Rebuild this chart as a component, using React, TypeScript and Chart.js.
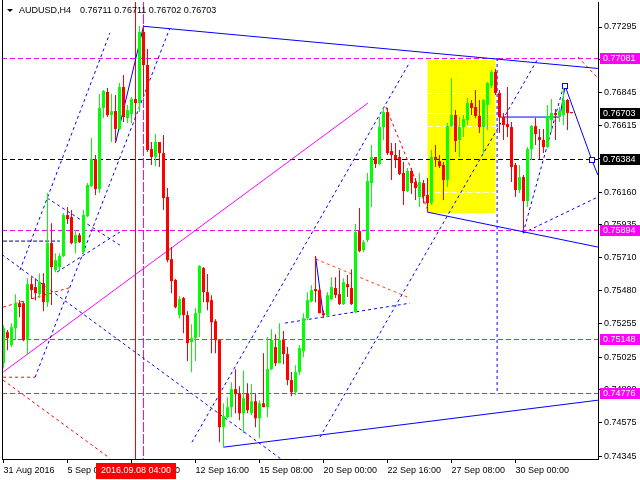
import React, { useEffect, useRef } from "react";
import { Chart, registerables } from "chart.js";

Chart.register(...registerables);

const FONT = "Liberation Sans";

// ---------- header ----------
const symbolTitle = "AUDUSD,H4";
const headerQuote = "0.76711 0.76711 0.76702 0.76703";

// ---------- OHLC (H4 bars, bar 0 = 31 Aug 2016 16:00) ----------
const opens = [
  0.74983, 0.75197, 0.75108, 0.75224, 0.75396, 0.75396, 0.75142, 0.75527, 0.75507, 0.75458,
  0.75534, 0.75403, 0.75809, 0.75623, 0.75644, 0.7572, 0.76002, 0.75988, 0.75809, 0.75864,
  0.75747, 0.75995, 0.76202, 0.76387, 0.76181, 0.76738, 0.76848, 0.7669, 0.76717, 0.76594,
  0.76883, 0.76669, 0.76697, 0.768, 0.76772, 0.77261, 0.77034, 0.76456, 0.76401, 0.76504,
  0.76428, 0.76126, 0.75699, 0.75555, 0.75314, 0.75431, 0.75314, 0.75128, 0.75156, 0.75327,
  0.75637, 0.75472, 0.75417, 0.75272, 0.75142, 0.74543, 0.74612, 0.74681, 0.74805, 0.74777,
  0.74639, 0.74777, 0.74639, 0.74722, 0.74605, 0.74708, 0.74681, 0.74942, 0.75094, 0.74983,
  0.75142, 0.75046, 0.74867, 0.74784, 0.74922, 0.75066, 0.75293, 0.7541, 0.75493, 0.75486,
  0.75327, 0.75314, 0.75424, 0.755, 0.75458, 0.7539, 0.75527, 0.755, 0.75334, 0.75892,
  0.75761, 0.7583, 0.76222, 0.76401, 0.76353, 0.76607, 0.7671, 0.76442, 0.76415, 0.76401,
  0.76291, 0.76167, 0.76305, 0.76229, 0.76126, 0.76222, 0.7614, 0.76084, 0.76401, 0.76373,
  0.76346, 0.76243, 0.76614, 0.7669, 0.76518, 0.76607, 0.76655, 0.76772, 0.76745, 0.76683,
  0.76607, 0.76759, 0.7689, 0.76986, 0.76841, 0.76676, 0.76628, 0.76607, 0.76346, 0.76174,
  0.76263, 0.76098, 0.76456, 0.76614, 0.76538, 0.76518, 0.7647, 0.76655, 0.76704, 0.76683,
  0.7669, 0.76793, 0.76711,
];
const highs = [
  0.75245, 0.75211, 0.75258, 0.75458, 0.75417, 0.7541, 0.75568, 0.75575, 0.75568, 0.75602,
  0.75602, 0.76153, 0.75946, 0.7574, 0.7574, 0.76016, 0.76057, 0.76036, 0.75899, 0.75878,
  0.76036, 0.76223, 0.76532, 0.76415, 0.76834, 0.76862, 0.76876, 0.76834, 0.76827, 0.7691,
  0.76965, 0.76759, 0.76814, 0.76814, 0.77302, 0.77309, 0.77144, 0.76504, 0.76559, 0.76504,
  0.76552, 0.76188, 0.75782, 0.75562, 0.75445, 0.75438, 0.75341, 0.75252, 0.75362, 0.75658,
  0.75644, 0.75596, 0.75451, 0.75286, 0.75142, 0.74708, 0.7475, 0.74853, 0.74942, 0.74825,
  0.74935, 0.74846, 0.74839, 0.74777, 0.74729, 0.75052, 0.75163, 0.75217, 0.75183, 0.75258,
  0.75204, 0.75094, 0.74922, 0.7497, 0.75108, 0.75327, 0.75472, 0.7552, 0.7572, 0.755,
  0.75348, 0.75472, 0.75575, 0.75575, 0.75623, 0.75568, 0.75589, 0.7563, 0.7594, 0.7605,
  0.7583, 0.76291, 0.76483, 0.76401, 0.76676, 0.76738, 0.76738, 0.76497, 0.76497, 0.76449,
  0.76366, 0.76325, 0.76325, 0.76257, 0.76291, 0.76243, 0.76257, 0.76449, 0.76483, 0.76415,
  0.76366, 0.76635, 0.76945, 0.76724, 0.76676, 0.7669, 0.76807, 0.76793, 0.76862, 0.76793,
  0.768, 0.76917, 0.77, 0.77007, 0.76862, 0.76704, 0.76883, 0.76642, 0.7636, 0.76346,
  0.76277, 0.7647, 0.76621, 0.76669, 0.76594, 0.76594, 0.76759, 0.768, 0.76731, 0.76745,
  0.76876, 0.768, 0.76711,
];
const lows = [
  0.74949, 0.75073, 0.75094, 0.75142, 0.753, 0.75135, 0.75039, 0.75424, 0.75417, 0.75431,
  0.75341, 0.75369, 0.75383, 0.75609, 0.75623, 0.75713, 0.7594, 0.75802, 0.7574, 0.75809,
  0.7574, 0.75988, 0.76195, 0.7614, 0.76153, 0.76669, 0.76676, 0.76504, 0.76497, 0.76587,
  0.76642, 0.76635, 0.76635, 0.76759, 0.7671, 0.76814, 0.76435, 0.76346, 0.76339, 0.76332,
  0.76036, 0.75678, 0.75465, 0.75362, 0.75293, 0.7519, 0.74997, 0.74921, 0.74997, 0.75163,
  0.75403, 0.75348, 0.75052, 0.75052, 0.7444, 0.74406, 0.74605, 0.74612, 0.74639, 0.74591,
  0.74502, 0.74639, 0.74626, 0.74543, 0.74468, 0.74681, 0.74612, 0.74935, 0.74963, 0.74983,
  0.74976, 0.74832, 0.74756, 0.74763, 0.74901, 0.75025, 0.75279, 0.75403, 0.75403, 0.75327,
  0.75293, 0.753, 0.75417, 0.75431, 0.75383, 0.75383, 0.75438, 0.75383, 0.75327, 0.75747,
  0.75747, 0.75816, 0.76057, 0.76325, 0.76346, 0.76518, 0.76415, 0.76243, 0.76325, 0.76277,
  0.76071, 0.7616, 0.76146, 0.76105, 0.76057, 0.76084, 0.76022, 0.76071, 0.76332, 0.76325,
  0.76105, 0.76195, 0.76607, 0.76435, 0.76401, 0.76538, 0.76621, 0.7669, 0.76669, 0.76566,
  0.76428, 0.76587, 0.76876, 0.76827, 0.76566, 0.76518, 0.76538, 0.76229, 0.76126, 0.76153,
  0.75899, 0.76057, 0.7638, 0.76483, 0.76387, 0.76428, 0.76463, 0.76573, 0.76518, 0.76642,
  0.76621, 0.76587, 0.76702,
];
const closes = [
  0.75224, 0.75156, 0.75231, 0.75396, 0.75369, 0.75142, 0.75527, 0.75486, 0.75465, 0.75541,
  0.75403, 0.75809, 0.75644, 0.75692, 0.7572, 0.76002, 0.75974, 0.75809, 0.75864, 0.75816,
  0.76002, 0.76209, 0.76387, 0.76181, 0.76738, 0.76855, 0.7669, 0.76717, 0.76594, 0.76883,
  0.76676, 0.76724, 0.768, 0.76772, 0.77261, 0.77034, 0.76449, 0.76401, 0.76504, 0.76428,
  0.76119, 0.75692, 0.75548, 0.75369, 0.75424, 0.75314, 0.75121, 0.75156, 0.75327, 0.75651,
  0.75472, 0.75403, 0.75265, 0.75142, 0.74543, 0.74619, 0.74681, 0.74805, 0.7477, 0.74639,
  0.74743, 0.7466, 0.74722, 0.74605, 0.74708, 0.74681, 0.74942, 0.75142, 0.74983, 0.75142,
  0.75046, 0.74867, 0.74784, 0.74922, 0.75087, 0.75293, 0.75417, 0.75486, 0.75479, 0.75327,
  0.75314, 0.75451, 0.75507, 0.75451, 0.7539, 0.75541, 0.75507, 0.7539, 0.75885, 0.75754,
  0.75816, 0.76236, 0.76401, 0.76353, 0.76607, 0.7671, 0.76428, 0.76415, 0.76387, 0.76284,
  0.76167, 0.76305, 0.76222, 0.76188, 0.76229, 0.76133, 0.76084, 0.76401, 0.7638, 0.76339,
  0.76243, 0.76614, 0.7669, 0.76511, 0.76607, 0.76662, 0.76772, 0.76738, 0.76683, 0.76607,
  0.76793, 0.7691, 0.76986, 0.76841, 0.76676, 0.76621, 0.76607, 0.76332, 0.76174, 0.76263,
  0.76098, 0.76456, 0.76614, 0.76559, 0.76518, 0.7647, 0.76683, 0.76704, 0.7669, 0.76717,
  0.76793, 0.76704, 0.76703,
];

// ---------- axes ----------
const timeTickBars = [0, 16, 32, 48, 64, 80, 96, 112, 128];
const timeTickLabels = [
  "31 Aug 2016", "5 Sep 08:00", "8 Sep 00:00", "12 Sep 16:00", "15 Sep 08:00",
  "20 Sep 00:00", "22 Sep 16:00", "27 Sep 08:00", "30 Sep 00:00",
];
const priceTicks = [
  0.74345, 0.74575, 0.748, 0.75025, 0.75255, 0.7548, 0.7571, 0.75935, 0.7616, 0.7639,
  0.76615, 0.76845, 0.7707, 0.77295,
];
const priceMin = 0.743246;
const priceMax = 0.77467;
const barMin = -0.375;
const barMax = 148.625;

// ---------- objects ----------
const crosshairBar = 33;
const crosshairLabel = "2016.09.08 04:00";
const markerVerticalBar = 35;
const currentPrice = 0.76703;
const magentaLevels = [0.77081, 0.75894, 0.75148, 0.74776];
const blackLevels = [0.76384];

const zoneBars = [106, 123];
const zonePrices = [0.77068, 0.76016];
const fiboDashed = [0.76841, 0.76614, 0.7616];
const fiboSolid = [0.76697];

type Pt = [number, number];
const blueSolid: Pt[][] = [
  [[28, 0.76497], [35, 0.773]],
  [[35, 0.773], [148.6, 0.7701]],
  [[106, 0.76022], [148.6, 0.75782]],
  [[55, 0.74406], [148.6, 0.74729]],
  [[124.1, 0.76676], [139.1, 0.76676], [140.4, 0.7689], [147.1, 0.7638], [148.6, 0.76277]],
  [[78, 0.7572], [80, 0.753]],
];
const blueDashed: Pt[][] = [
  [[4.1, 0.75623], [26.6, 0.77254]],
  [[7.9, 0.74887], [41.6, 0.77288]],
  [[-0.375, 0.7573], [69.4, 0.74324]],
  [[47.1, 0.7444], [101.6, 0.77055]],
  [[79.1, 0.74474], [133.4, 0.77068]],
  [[129.9, 0.75878], [139.9, 0.76876]],
  [[129.9, 0.75878], [148.6, 0.76126]],
  [[70.4, 0.75259], [101.6, 0.75396]],
  [[10.9, 0.76119], [29.1, 0.75795]],
  [[13.4, 0.7561], [29.1, 0.75885]],
  [[123.4, 0.77082], [123.4, 0.7477]],
];
const navyDashed: Pt[][] = [[[-0.1, 0.75823], [14.1, 0.75823]]];
const redDotted: Pt[][] = [
  [[-0.1, 0.75369], [17.1, 0.75507]],
  [[-0.1, 0.74887], [7.9, 0.74887]],
  [[-0.1, 0.74867], [26.6, 0.7433]],
  [[95.6, 0.76745], [106.1, 0.76036]],
  [[143.6, 0.77089], [148.6, 0.76944]],
];
const orangeDotted: Pt[][] = [[[78.1, 0.75699], [101.6, 0.75431]]];
const magentaSolid: Pt[][] = [[[-0.1, 0.74922], [91.1, 0.76772]]];
const squareMarkers: Pt[] = [[140.4, 0.7689], [147.1, 0.7638]];

const BULL = "#00FF00";
const BEAR = "#FF0000";
const BLUE = "#0000FF";
const MAGENTA = "#FF00FF";

const overlayPlugin = {
  id: "mtOverlay",
  beforeDatasetsDraw(chart: any) {
    const { ctx, chartArea: a } = chart;
    const xs = chart.scales.x;
    const ys = chart.scales.y;
    const px = (b: number) => xs.getPixelForValue(b);
    const py = (p: number) => ys.getPixelForValue(p);
    const row = (p: number) => Math.floor(py(p)) + 0.5;
    ctx.save();
    ctx.beginPath();
    ctx.rect(a.left, a.top, a.right - a.left, a.bottom - a.top);
    ctx.clip();

    // yellow zone
    const zx0 = px(zoneBars[0]);
    const zx1 = px(zoneBars[1]);
    const zy0 = Math.floor(py(zonePrices[0]));
    const zy1 = Math.floor(py(zonePrices[1]));
    ctx.fillStyle = "#FFFF00";
    ctx.fillRect(zx0, zy0, zx1 - zx0, zy1 - zy0);
    ctx.strokeStyle = "#FFFFFF";
    ctx.lineWidth = 1;
    fiboDashed.forEach((p) => {
      ctx.setLineDash([5, 3]);
      ctx.beginPath();
      ctx.moveTo(zx0, row(p));
      ctx.lineTo(zx1, row(p));
      ctx.stroke();
    });
    fiboSolid.forEach((p) => {
      ctx.setLineDash([]);
      ctx.beginPath();
      ctx.moveTo(zx0, row(p));
      ctx.lineTo(zx1, row(p));
      ctx.stroke();
    });

    // horizontal levels
    const hline = (p: number, color: string) => {
      ctx.strokeStyle = color;
      ctx.setLineDash([5, 3]);
      ctx.beginPath();
      ctx.moveTo(a.left, row(p));
      ctx.lineTo(a.right, row(p));
      ctx.stroke();
    };
    magentaLevels.forEach((p) => hline(p, MAGENTA));
    blackLevels.forEach((p) => hline(p, "#000000"));

    // vertical lines
    ctx.setLineDash([]);
    ctx.strokeStyle = "#FF0000";
    ctx.beginPath();
    ctx.moveTo(px(crosshairBar), a.top);
    ctx.lineTo(px(crosshairBar), a.bottom);
    ctx.stroke();
    ctx.setLineDash([10, 2]);
    ctx.strokeStyle = MAGENTA;
    ctx.beginPath();
    ctx.moveTo(px(markerVerticalBar), a.top);
    ctx.lineTo(px(markerVerticalBar), a.bottom);
    ctx.stroke();

    const path = (lines: Pt[][], color: string, dash: number[]) => {
      ctx.strokeStyle = color;
      ctx.setLineDash(dash);
      lines.forEach((pts) => {
        ctx.beginPath();
        pts.forEach(([b, p], k) => {
          if (k === 0) ctx.moveTo(px(b), py(p));
          else ctx.lineTo(px(b), py(p));
        });
        ctx.stroke();
      });
    };
    path(magentaSolid, MAGENTA, []);
    path(redDotted, "#FF0000", [3, 3]);
    path(orangeDotted, "#FF4400", [3, 3]);
    path(blueDashed, BLUE, [3, 3]);
    path(navyDashed, "#000080", [4, 2]);
    path(blueSolid, BLUE, []);

    ctx.setLineDash([]);
    squareMarkers.forEach(([b, p]) => {
      const x = Math.round(px(b));
      const y = Math.round(py(p));
      ctx.fillStyle = "#FFFFFF";
      ctx.fillRect(x - 3, y - 3, 6, 6);
      ctx.strokeStyle = BLUE;
      ctx.strokeRect(x - 2.5, y - 2.5, 5, 5);
    });
    ctx.restore();
  },
  afterDraw(chart: any) {
    const { ctx, chartArea: a } = chart;
    const xs = chart.scales.x;
    const ys = chart.scales.y;
    ctx.save();

    // left frame line
    ctx.strokeStyle = "#000000";
    ctx.lineWidth = 1;
    ctx.beginPath();
    ctx.moveTo(a.left + 0.5, 0);
    ctx.lineTo(a.left + 0.5, a.bottom);
    ctx.stroke();

    ctx.font = `9px "${FONT}"`;
    ctx.textBaseline = "middle";

    // price labels on the axis
    const tag = (p: number, bg: string) => {
      const y = Math.floor(ys.getPixelForValue(p));
      ctx.fillStyle = bg;
      ctx.fillRect(a.right + 2, y - 5, 640 - a.right - 2, 11);
      ctx.fillStyle = "#FFFFFF";
      ctx.textAlign = "left";
      ctx.fillText(p.toFixed(5), a.right + 5, y + 0.5);
    };
    magentaLevels.forEach((p) => tag(p, MAGENTA));
    blackLevels.forEach((p) => tag(p, "#000000"));
    tag(currentPrice, "#000000");

    // crosshair time label
    const cx = Math.round(xs.getPixelForValue(crosshairBar));
    ctx.fillStyle = "#FF0000";
    ctx.fillRect(cx - 40, a.bottom + 4, 80, 16);
    ctx.fillStyle = "#FFFFFF";
    ctx.textAlign = "center";
    ctx.fillText(crosshairLabel, cx, a.bottom + 12);

    // header
    ctx.fillStyle = "#000000";
    ctx.beginPath();
    ctx.moveTo(7, 9);
    ctx.lineTo(13, 9);
    ctx.lineTo(10, 12);
    ctx.closePath();
    ctx.fill();
    ctx.textAlign = "left";
    ctx.fillText(symbolTitle, 19, 11);
    ctx.fillText(headerQuote, 80, 11);
    ctx.restore();
  },
};

export default function App() {
  const ref = useRef<HTMLCanvasElement>(null);
  useEffect(() => {
    document.body.style.margin = "0";
    const idx = opens.map((_, i) => i);
    const colors = idx.map((i) => (closes[i] >= opens[i] ? BULL : BEAR));
    const chart = new Chart(ref.current!, {
      type: "bar",
      data: {
        datasets: [
          {
            label: "body",
            data: idx.map((i) => ({ x: i, y: [opens[i], closes[i]] })) as any,
            backgroundColor: colors,
            grouped: false,
            barPercentage: 1,
            categoryPercentage: 1,
            maxBarThickness: 3,
            minBarLength: 1,
            borderWidth: 0,
            inflateAmount: 0,
          } as any,
          {
            label: "wick",
            data: idx.map((i) => ({ x: i, y: [lows[i], highs[i]] })) as any,
            backgroundColor: colors,
            grouped: false,
            barPercentage: 1,
            categoryPercentage: 1,
            maxBarThickness: 1,
            minBarLength: 1,
            borderWidth: 0,
            inflateAmount: 0,
          } as any,
        ],
      },
      options: {
        responsive: false,
        animation: false,
        devicePixelRatio: 1,
        events: [],
        layout: { padding: { left: 2, top: 2, right: 0, bottom: 0 } },
        plugins: { legend: { display: false }, tooltip: { enabled: false } },
        scales: {
          x: {
            type: "linear",
            min: barMin,
            max: barMax,
            offset: false,
            afterBuildTicks: (s: any) => {
              s.ticks = timeTickBars.map((v) => ({ value: v }));
            },
            afterFit: (s: any) => {
              s.height = 21;
              s.paddingLeft = 0;
              s.paddingRight = 0;
            },
            ticks: {
              autoSkip: false,
              maxRotation: 0,
              minRotation: 0,
              align: "start",
              padding: 2,
              color: "#000000",
              font: { family: FONT, size: 9 },
              callback: (v: any) => timeTickLabels[timeTickBars.indexOf(Number(v))] ?? "",
            },
            grid: { drawOnChartArea: false, drawTicks: true, tickLength: 4, color: "#000000", offset: false },
            border: { display: true, color: "#000000" },
          },
          y: {
            type: "linear",
            position: "right",
            min: priceMin,
            max: priceMax,
            afterBuildTicks: (s: any) => {
              s.ticks = priceTicks.map((v) => ({ value: v }));
            },
            afterFit: (s: any) => {
              s.width = 42;
              s.paddingTop = 0;
              s.paddingBottom = 0;
            },
            ticks: {
              autoSkip: false,
              padding: 2,
              crossAlign: "near",
              color: "#000000",
              font: { family: FONT, size: 9 },
              callback: (v: any) => Number(v).toFixed(5),
            },
            grid: { drawOnChartArea: false, drawTicks: true, tickLength: 4, color: "#000000" },
            border: { display: true, color: "#000000" },
          },
        },
      } as any,
      plugins: [overlayPlugin],
    });
    return () => chart.destroy();
  }, []);
  return <canvas ref={ref} width={640} height={480} style={{ display: "block" }} />;
}
